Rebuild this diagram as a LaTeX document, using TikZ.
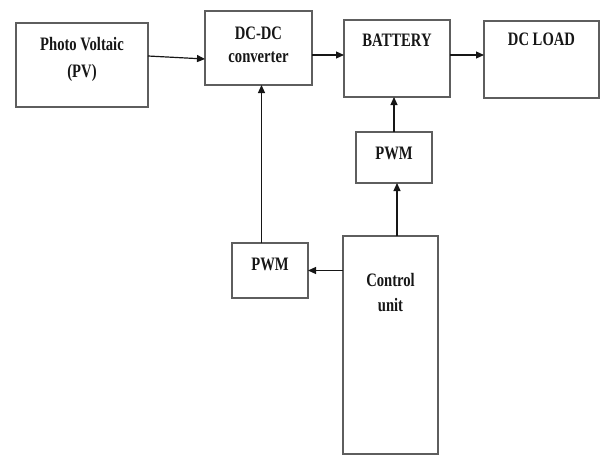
\documentclass[tikz,border=0pt]{standalone}
\usepackage{fontspec}
\setmainfont{Liberation Serif}[FakeStretch=0.77]
\usetikzlibrary{arrows.meta,positioning}
\definecolor{boxgray}{HTML}{5E5E5E}
\definecolor{inkblack}{HTML}{161616}

\begin{document}
\begin{tikzpicture}[x=1pt,y=-1pt,
 box/.style={draw=boxgray,line width=1.4pt,inner sep=0pt,outer sep=0pt},
 tag/.style={font=\fontsize{19}{25}\selectfont\bfseries,inner sep=0pt,align=center,anchor=north,text=inkblack},
 arr/.style={-{Triangle[length=8pt,width=7pt]},line width=1.2pt,draw=inkblack}]
\useasboundingbox (0,0) rectangle (600,455);
\node[box,minimum width=132pt,minimum height=84pt,label={[tag,yshift=-14pt]north:{Photo Voltaic\\[2pt](PV)}}] (pv) at (82,65) {};
\node[box,minimum width=107pt,minimum height=74pt,label={[tag,yshift=-16pt]north:{DC-DC\\[-2pt]converter}}] (dcdc) at (258.5,48) {};
\node[box,minimum width=106pt,minimum height=77pt,label={[tag,yshift=-14pt]north:BATTERY}] (bat) at (397,58.5) {};
\node[box,minimum width=115pt,minimum height=77pt,label={[tag,yshift=-12pt]north:DC LOAD}] (load) at (541.5,59.5) {};
\node[box,minimum width=76pt,minimum height=51pt,label={[tag,yshift=-15pt]north:PWM}] (pwmbat) at (394,157.5) {};
\node[box,minimum width=76pt,minimum height=55pt,label={[tag,yshift=-15pt]north:PWM}] (pwmconv) at (270,270.5) {};
\node[box,minimum width=95pt,minimum height=218pt,label={[tag,yshift=-37pt]north:{Control\\unit}}] (ctrl) at (390.5,345) {};
\draw[arr] ([yshift=9pt]pv.east) -- ([yshift=-11pt]dcdc.west);
\draw[arr] ([yshift=-7pt]dcdc.east) -- ([yshift=3.5pt]bat.west);
\draw[arr] ([yshift=3.5pt]bat.east) -- ([yshift=4.5pt]load.west);
\draw[arr] (pwmbat.north) -- (pwmbat.north |- bat.south);
\draw[arr] ([xshift=3pt]pwmbat.south |- ctrl.north) -- ([xshift=3pt]pwmbat.south);
\draw[arr] (ctrl.west |- pwmconv.east) -- (pwmconv.east);
\draw[arr] ([xshift=3pt]dcdc.south |- pwmconv.north) -- ([xshift=3pt]dcdc.south);
\end{tikzpicture}
\end{document}
